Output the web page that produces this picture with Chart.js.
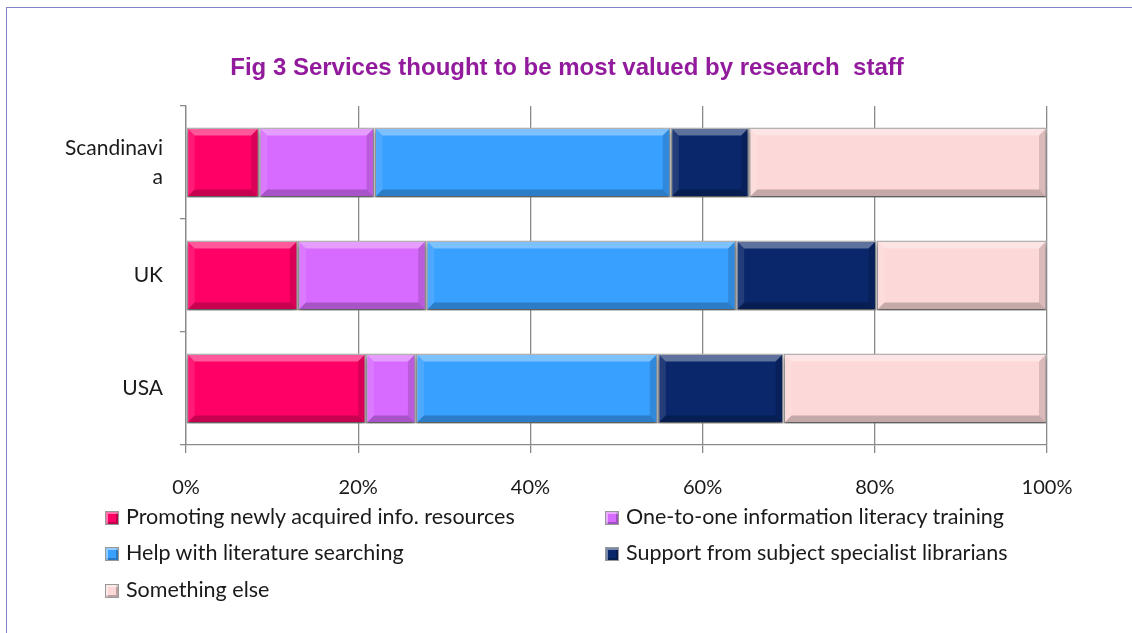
<!DOCTYPE html>
<html>
<head>
<meta charset="utf-8">
<title>Fig 3</title>
<script src="https://cdn.jsdelivr.net/npm/chart.js@4.4.1/dist/chart.umd.min.js"></script>
<style>
  html, body { margin: 0; padding: 0; background: #fff; }
  #wrap { position: relative; width: 1132px; height: 633px; overflow: hidden; }
  #frame { position: absolute; left: 6px; top: 7px; right: -2px; bottom: -2px;
           border: 1px solid #7f86c8; border-right: none; border-bottom: none; }
  canvas { position: absolute; left: 0; top: 0; }
  #title { position: absolute; left: 0; width: 1134px; top: 52px; text-align: center;
           font: bold 24px "Liberation Sans", Arial, sans-serif; color: #921a9c; line-height: 29px; }
  #legend { position: absolute; left: 105px; top: 503px; width: 1000px;
            font-family: Lato, sans-serif; font-size: 21.5px; color: #1a1a1a; }
  #legend .item { position: absolute; height: 26px; line-height: 26px; white-space: nowrap; }
  #legend .box { display: inline-block; width: 14px; height: 14px; margin-right: 7px;
                 vertical-align: -1px; box-sizing: border-box; border: 1px solid #999;
                 box-shadow: inset 2px 2px 0 rgba(255,255,255,0.45), inset -2px -2px 0 rgba(0,0,0,0.25); }
</style>
</head>
<body>
<div id="wrap">
  <div id="frame"></div>
  <canvas id="chart" width="1132" height="633"></canvas>
  <div id="title">Fig 3 Services thought to be most valued by research&nbsp; staff</div>
  <div id="legend"></div>
</div>
<script>
var countries = [['Scandinavi', 'a'], 'UK', 'USA'];
var services = [
  'Promoting newly acquired info. resources',
  'One-to-one information literacy training',
  'Help with literature searching',
  'Support from subject specialist librarians',
  'Something else'
];
var colours = ['#ff0066', '#d86bff', '#38a0ff', '#0a276b', '#fdd8d8'];

// percentage of respondents per country, one array per service
var promoting   = [8.5, 13.0, 20.9];
var oneToOne    = [13.4, 14.9, 5.8];
var litSearch   = [34.4, 36.0, 28.1];
var specialists = [9.1, 16.3, 14.6];
var other       = [34.6, 19.8, 30.6];

var xTicks = [0, 20, 40, 60, 80, 100];

var series = [promoting, oneToOne, litSearch, specialists, other];

// soft drop shadow under the bars
var shadowPlugin = {
  id: 'barShadow',
  beforeDatasetsDraw: function(chart) {
    var ctx = chart.ctx;
    ctx.save();
    ctx.shadowColor = 'rgba(0,0,0,0.35)';
    ctx.shadowBlur = 4;
    ctx.shadowOffsetY = 4;
  },
  afterDatasetsDraw: function(chart) {
    chart.ctx.restore();
  }
};

// bevelled edges on each bar segment
var bevelPlugin = {
  id: 'bevel',
  afterDatasetsDraw: function(chart) {
    var ctx = chart.ctx;
    ctx.save();
    ctx.shadowColor = 'transparent';
    chart.data.datasets.forEach(function(ds, i) {
      chart.getDatasetMeta(i).data.forEach(function(bar) {
        var p = bar.getProps(['x', 'y', 'base', 'height'], true);
        var l = Math.min(p.x, p.base) + 1, r = Math.max(p.x, p.base) - 1;
        var t = p.y - p.height / 2 + 1, b = p.y + p.height / 2 - 1;
        var d = Math.min(7, (r - l) / 2);
        function quad(pts, fill) {
          ctx.beginPath();
          ctx.moveTo(pts[0], pts[1]);
          for (var k = 2; k < pts.length; k += 2) ctx.lineTo(pts[k], pts[k + 1]);
          ctx.closePath();
          ctx.fillStyle = fill;
          ctx.fill();
        }
        quad([l, t, r, t, r - d, t + d, l + d, t + d], 'rgba(255,255,255,0.35)');
        quad([l, t, l + d, t + d, l + d, b - d, l, b], 'rgba(255,255,255,0.1)');
        quad([r, t, r, b, r - d, b - d, r - d, t + d], 'rgba(0,0,0,0.14)');
        quad([l, b, l + d, b - d, r - d, b - d, r, b], 'rgba(0,0,0,0.22)');
      });
    });
    ctx.restore();
  }
};

var chartdata = {
  labels: countries,
  datasets: series.map(function(values, i) {
    return {
      label: services[i],
      data: values,
      backgroundColor: colours[i],
      borderColor: '#a3a3a3',
      borderWidth: 1.5,
      borderSkipped: false,
      barPercentage: 0.62,
      categoryPercentage: 1.0
    };
  })
};

var ctx = document.getElementById('chart');
var StackedBars = new Chart(ctx, {
  type: 'bar',
  data: chartdata,
  plugins: [shadowPlugin, bevelPlugin],
  options: {
    indexAxis: 'y',
    responsive: false,
    animation: false,
    layout: { padding: { top: 106, right: 85, bottom: 110, left: 0 } },
    plugins: {
      legend: { display: false },
      tooltip: { enabled: false },
      title: { display: false }
    },
    scales: {
      x: {
        stacked: true,
        min: 0,
        max: 100,
        afterBuildTicks: function(scale) {
          scale.ticks = xTicks.map(function(v) { return { value: v }; });
        },
        ticks: {
          callback: function(v) { return v + '%'; },
          color: '#1a1a1a',
          font: { family: 'Lato, sans-serif', size: 20 },
          padding: 23
        },
        grid: { color: '#8a8a8a', lineWidth: 1.3, tickLength: 8 },
        border: { display: true, color: '#8a8a8a', width: 1.3 }
      },
      y: {
        stacked: true,
        afterFit: function(scale) { scale.width = 186; },
        ticks: {
          color: '#1a1a1a',
          font: { family: 'Lato, sans-serif', size: 21, lineHeight: 1.4 },
          padding: 17
        },
        grid: { offset: true, drawOnChartArea: false, color: '#8a8a8a', lineWidth: 1.3, tickLength: 6 },
        border: { display: true, color: '#8a8a8a', width: 1.3 }
      }
    }
  }
});

// two-column legend built from the datasets
var legend = document.getElementById('legend');
var spots = [[0, 0], [500, 0], [0, 36], [500, 36], [0, 73]];
chartdata.datasets.forEach(function(ds, i) {
  var item = document.createElement('div');
  item.className = 'item';
  item.style.left = spots[i][0] + 'px';
  item.style.top = spots[i][1] + 'px';
  var box = document.createElement('span');
  box.className = 'box';
  box.style.background = ds.backgroundColor;
  item.appendChild(box);
  item.appendChild(document.createTextNode(ds.label));
  legend.appendChild(item);
});
</script>
</body>
</html>
